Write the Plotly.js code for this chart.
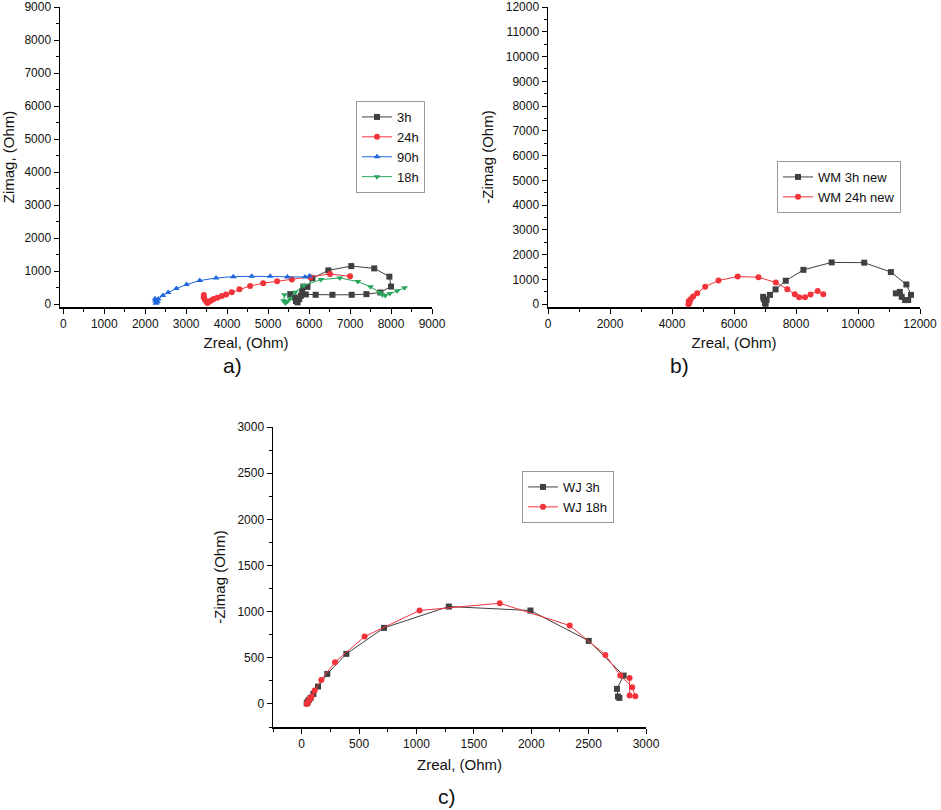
<!DOCTYPE html>
<html>
<head>
<meta charset="utf-8">
<script src="https://cdn.plot.ly/plotly-3.0.1.min.js"></script>
<style>html,body{margin:0;padding:0;background:#fff;}#chart{width:941px;height:810px;}</style>
</head>
<body>
<div id="chart"></div>
<script>
// Panel a
const a3hX = [5540,5650,5700,5720,5680,5760,5800,5830,5860,5960,6080,6470,7030,7590,7960,8000,7740,7400,7040,6570,6160,5920];
const a3hY = [300,200,120,50,90,150,250,380,530,520,780,1020,1150,1080,830,530,350,300,280,280,280,290];
const a24hX = [3430,3430,3460,3500,3520,3560,3610,3670,3760,3870,3975,4113,4300,4560,4880,5220,5580,6030,6510,7000];
const a24hY = [270,200,120,60,30,80,110,150,190,240,290,360,450,550,630,690,740,810,910,840];
const a90hX = [2260,2280,2250,2300,2240,2320,2430,2560,2760,3010,3330,3730,4150,4600,5050,5470,5900,6010];
const a90hY = [20,60,100,80,160,150,260,350,470,590,710,790,830,840,840,820,820,850];
const a18hX = [5400,5380,5420,5470,5530,5660,5870,6290,6750,7190,7500,7720,7790,7860,7970,8150,8330];
const a18hY = [280,100,30,80,160,360,560,740,790,680,520,350,280,260,320,400,490];
// Panel b
const bWM3X = [6940,6960,7000,7020,7050,7160,7340,7670,8240,9150,10200,11060,11560,11710,11620,11520,11410,11350,11220];
const bWM3Y = [300,200,60,20,170,380,600,950,1390,1690,1680,1300,800,380,170,170,300,500,440];
const bWM24X = [4530,4560,4540,4580,4600,4680,4810,5070,5500,6120,6790,7350,7720,7960,8100,8290,8470,8700,8880];
const bWM24Y = [0,50,120,150,200,310,440,710,960,1120,1090,880,610,400,280,280,390,540,400];
// Panel c
const cWJ3X = [44,50,55,65,78,102,142,223,389,717,1282,1993,2501,2805,2747,2756,2768];
const cWJ3Y = [7,15,29,45,65,108,188,325,542,824,1055,1012,683,307,163,80,65];
const cWJ18X = [44,50,56,64,75,87,113,171,290,548,1027,1726,2335,2646,2776,2880,2907,2857,2857];
const cWJ18Y = [0,10,20,43,60,80,145,260,452,730,1012,1091,849,531,307,181,83,90,282];

const names = {a:['3h','24h','90h','18h'], b:['WM 3h new','WM 24h new'], c:['WJ 3h','WJ 18h']};
const panelLabels = ['a)','b)','c)'];

const BLACK='#404040', RED='#f2333a', BLUE='#1e66dc', GREEN='#2aa55c';
const FONT='Liberation Sans, Arial, sans-serif';

function tr(x,y,name,color,symbol,xa,ya,leg){
  return {type:'scatter',mode:'lines+markers',x:x,y:y,name:name,xaxis:xa,yaxis:ya,legend:leg,
    line:{color:color,width:1},marker:{color:color,symbol:symbol,size:6}};
}
const data = [
  tr(a3hX,a3hY,names.a[0],BLACK,'square','x','y','legend'),
  tr(a24hX,a24hY,names.a[1],RED,'circle','x','y','legend'),
  tr(a90hX,a90hY,names.a[2],BLUE,'triangle-up','x','y','legend'),
  tr(a18hX,a18hY,names.a[3],GREEN,'triangle-down','x','y','legend'),
  tr(bWM3X,bWM3Y,names.b[0],BLACK,'square','x2','y2','legend2'),
  tr(bWM24X,bWM24Y,names.b[1],RED,'circle','x2','y2','legend2'),
  tr(cWJ3X,cWJ3Y,names.c[0],BLACK,'square','x3','y3','legend3'),
  tr(cWJ18X,cWJ18Y,names.c[1],RED,'circle','x3','y3','legend3')
];

function ax(domain,range,dtick,minor,title,anchor,standoff){
  return {domain:domain,range:range,dtick:dtick,tick0:0,tickmode:'linear',anchor:anchor,
    tickformat:'d',exponentformat:'none',
    showgrid:false,zeroline:false,showline:true,linecolor:'#000',linewidth:1.5,
    ticks:'outside',ticklen:5,tickwidth:1,tickcolor:'#000',
    minor:{dtick:minor,ticks:'outside',ticklen:3,tickcolor:'#000',tickwidth:1,showgrid:false},
    tickfont:{family:FONT,size:12,color:'#111'},
    title:{text:title,font:{family:FONT,size:15,color:'#111'},standoff:standoff},
    automargin:false};
}
const W=941,H=810;
const fx=(a,b)=>[a/W,b/W], fy=(t,b)=>[1-b/H,1-t/H];

const legBase = {bordercolor:'#999',borderwidth:1,bgcolor:'#fff',font:{family:FONT,size:13,color:'#111'},
  xanchor:'left',yanchor:'top',itemwidth:30,tracegroupgap:0};

function lab(t,x,y){
  return {text:t,x:x/W,y:1-y/H,xref:'paper',yref:'paper',xanchor:'center',yanchor:'middle',showarrow:false,
    font:{family:FONT,size:21,color:'#111'}};
}

const layout = {
  width:W,height:H,margin:{l:0,r:0,t:0,b:0},paper_bgcolor:'#fff',plot_bgcolor:'#fff',
  showlegend:true,
  xaxis: ax(fx(60,432),[-80,9000],1000,500,'Zreal, (Ohm)','y',7),
  yaxis: ax(fy(7,307),[-90,9000],1000,500,'Zimag, (Ohm)','x',8),
  xaxis2: ax(fx(548,920),[0,12000],2000,1000,'Zreal, (Ohm)','y2',7),
  yaxis2: ax(fy(7,307),[-110,12000],1000,500,'-Zimag (Ohm)','x2',8),
  xaxis3: ax(fx(273,646),[-250,3000],500,250,'Zreal, (Ohm)','y3',9),
  yaxis3: ax(fy(427,727),[-250,3000],500,250,'-Zimag (Ohm)','x3',8),
  legend: Object.assign({},legBase,{x:356/W,y:1-101/H}),
  legend2: Object.assign({},legBase,{x:777/W,y:1-161/H}),
  legend3: Object.assign({},legBase,{x:522/W,y:1-471/H}),
  annotations:[
    lab(panelLabels[0],232,365),
    lab(panelLabels[1],679,365),
    lab(panelLabels[2],447,796)
  ]
};
Plotly.newPlot('chart',data,layout,{displayModeBar:false,staticPlot:true});
</script>
</body>
</html>
